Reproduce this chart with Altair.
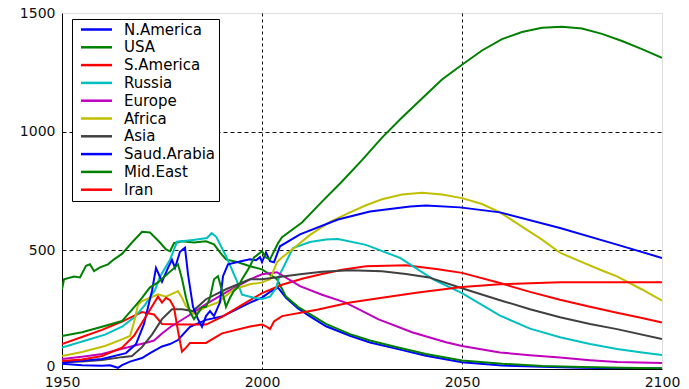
import altair as alt
import pandas as pd

# Production by region, 1950-2100 (history plus projection)
names = ["N.America", "USA", "S.America", "Russia", "Europe",
         "Africa", "Asia", "Saud.Arabia", "Mid.East", "Iran"]
colors = ["#0000ff", "#008000", "#ff0000", "#00bfbf", "#bf00bf",
          "#bfbf00", "#404040", "#0000ff", "#008000", "#ff0000"]

n_america_years = [1950, 1955, 1960, 1962, 1964, 1965, 1967, 1970, 1972, 1975, 1977, 1979,
                   1982, 1986, 1990, 1993.5, 1997, 2000, 2002, 2004, 2006, 2009, 2012, 2016,
                   2022, 2027, 2033, 2041, 2050, 2060, 2070, 2080, 2090, 2100]
n_america_vals = [22, 16, 14, 16, 5, 16, 31, 46, 67, 95, 105, 122,
                  178, 207, 221, 250, 280, 301, 325, 343, 300, 255, 222, 180,
                  140, 112, 88, 56, 28, 15, 9, 5, 3, 2]

usa_years = [1950, 1950.5, 1953, 1954.5, 1956, 1957, 1958, 1959.5, 1961.5, 1963, 1965, 1967.5,
             1970, 1972, 1974.5, 1976, 1977, 1978, 1980, 1983, 1986, 1988, 1989.5, 1991,
             1994, 1997, 2000, 2003.75, 2006, 2009, 2012, 2016, 2022, 2027, 2033, 2041,
             2050, 2060, 2070, 2080, 2090, 2100]
usa_vals = [335, 378, 390, 386, 435, 441, 412, 428, 441, 462, 485, 533,
            578, 575, 533, 504, 496, 530, 538, 533, 538, 525, 491, 462,
            450, 433, 420, 378, 305, 262, 231, 190, 147, 120, 95, 63,
            36, 22, 13, 8, 5, 3]

s_america_years = [1950, 1955, 1960, 1965, 1970, 1973, 1975, 1980, 1986, 1990, 1995, 2000,
                   2005, 2010, 2015, 2020, 2026, 2036, 2044, 2050, 2059.5, 2067, 2074.5,
                   2082, 2088.75, 2095, 2100]
s_america_vals = [105, 135, 165, 200, 240, 230, 190, 187, 187, 220, 270, 320,
                  355, 380, 400, 418, 433, 437, 420, 405, 362, 325, 292,
                  262, 237, 215, 196]

russia_years = [1950, 1956.5, 1960.75, 1965, 1968.25, 1970.75, 1973.25, 1974.5, 1977, 1978.75,
                1982.75, 1986.25, 1987.4, 1988.6, 1991.1, 1993.6, 1995, 1998, 2000, 2002,
                2003.5, 2004.5, 2007.75, 2012, 2016, 2019, 2026, 2034.5, 2043, 2050,
                2059.5, 2067, 2074.5, 2082, 2088.75, 2095, 2100]
russia_vals = [90, 123, 145, 178, 220, 270, 333, 389, 460, 536,
               544, 552, 573, 556, 472, 376, 313, 300, 295, 305,
               340, 400, 510, 535, 546, 548, 523, 468, 376, 320,
               225, 170, 134, 105, 84, 70, 59]

europe_years = [1950, 1955, 1960, 1966.5, 1971.5, 1973, 1975, 1977, 1979, 1983, 1986, 1991,
                1997, 2000, 2003.75, 2009.5, 2015, 2020.75, 2025, 2029, 2037.5, 2046, 2050,
                2059.5, 2067, 2074.5, 2082, 2088.75, 2100]
europe_vals = [42, 52, 63, 92, 113, 120, 150, 176, 197, 239, 273, 323,
               378, 399, 408, 349, 313, 281, 245, 210, 155, 113, 97,
               70, 58, 48, 37, 29, 25]

africa_years = [1950, 1955, 1960.75, 1965, 1967, 1968, 1969, 1970, 1972, 1974, 1976, 1979,
                1980, 1981, 1983, 1985.75, 1989, 1993, 1997, 2000, 2002, 2003.75, 2005, 2008,
                2012, 2017, 2022, 2026, 2030, 2035, 2040, 2045, 2050, 2055, 2059.5, 2065,
                2070, 2074.5, 2080, 2085, 2088.75, 2095, 2100]
africa_vals = [55, 72, 97, 125, 139, 197, 270, 286, 300, 315, 305, 328,
               300, 265, 231, 260, 281, 336, 357, 365, 378, 450, 470, 510,
               565, 620, 660, 690, 715, 735, 743, 735, 720, 695, 660, 600,
               545, 490, 450, 415, 390, 335, 288]

asia_years = [1950, 1955, 1960, 1965, 1967.5, 1970, 1972.5, 1975, 1977.5, 1980, 1982.75, 1986,
              1991, 1997, 2000, 2009.5, 2015, 2022, 2030, 2036, 2041.75, 2050, 2059.5,
              2067, 2074.5, 2082, 2088.75, 2100]
asia_vals = [29, 32, 38, 50, 55, 92, 145, 210, 252, 252, 244, 294,
             336, 378, 378, 399, 410, 416, 412, 400, 386, 340, 290,
             252, 218, 190, 168, 126]

saudi_years = [1950, 1955, 1960, 1966, 1968.5, 1970.5, 1971.5, 1972.5, 1973.5, 1975, 1976.5,
               1977.5, 1978.25, 1979.5, 1980.75, 1981.5, 1982.75, 1984, 1985, 1986, 1987,
               1988, 1989.5, 1990.25, 1991.5, 1995, 1997, 1998.5, 1999.5, 2000, 2001, 2002,
               2003, 2004.5, 2009.5, 2019, 2027, 2037, 2041, 2049.5, 2059.5, 2074.5,
               2088.75, 2100]
saudi_vals = [27, 35, 42, 67, 105, 190, 260, 330, 426, 368, 426,
              460, 426, 494, 511, 400, 262, 210, 178, 223, 244,
              223, 281, 391, 441, 455, 462, 458, 471, 450, 491, 454,
              450, 517, 567, 630, 664, 685, 689, 681, 660, 594,
              524, 468]

mid_east_years = [1950, 1955, 1960, 1965, 1968, 1970, 1972, 1974, 1976, 1978, 1979, 1980,
                  1981, 1982, 1983, 1984, 1985, 1986, 1987, 1988, 1989, 1990, 1991, 1992,
                  1993, 1994, 1995, 1996, 1997, 1998, 1999, 2000, 2001, 2002, 2003, 2004,
                  2005, 2010, 2015, 2020, 2025, 2030, 2035, 2040, 2045, 2050, 2055, 2060,
                  2065, 2070, 2075, 2080, 2085, 2090, 2095, 2100]
mid_east_vals = [139, 155, 178, 202, 260, 300, 344, 365, 395, 425, 441, 380,
                 300, 240, 210, 235, 260, 262, 300, 378, 391, 330, 262, 300,
                 330, 345, 378, 405, 433, 470, 483, 496, 470, 462, 496, 530,
                 555, 617, 705, 790, 880, 975, 1060, 1140, 1220, 1282, 1342, 1390,
                 1420, 1438, 1442, 1435, 1412, 1382, 1348, 1311]

iran_years = [1950, 1955, 1960, 1965, 1968, 1970, 1972, 1974, 1975, 1976, 1977, 1978,
              1979, 1980, 1981, 1982, 1986, 1990, 1997, 2000, 2001, 2002, 2003, 2005,
              2013.75, 2022, 2030, 2039, 2050, 2059.5, 2074.5, 2100]
iran_vals = [34, 40, 55, 90, 140, 195, 250, 305, 280, 300, 290, 260,
             160, 73, 90, 110, 110, 150, 179, 187, 180, 168, 200, 223,
             250, 280, 300, 322, 345, 357, 366, 366]

series = [
    (n_america_years, n_america_vals),
    (usa_years, usa_vals),
    (s_america_years, s_america_vals),
    (russia_years, russia_vals),
    (europe_years, europe_vals),
    (africa_years, africa_vals),
    (asia_years, asia_vals),
    (saudi_years, saudi_vals),
    (mid_east_years, mid_east_vals),
    (iran_years, iran_vals),
]

rows = []
for rank, (name, (years, vals)) in enumerate(zip(names, series)):
    for i, (yr, v) in enumerate(zip(years, vals)):
        rows.append({"region": name, "year": yr, "value": v, "idx": i, "rank": rank})
df = pd.DataFrame(rows)

font = "DejaVu Sans"
grid_x = {"condition": {"test": "datum.value == 2000 || datum.value == 2050", "value": 1}, "value": 0}
grid_y = {"condition": {"test": "datum.value == 500 || datum.value == 1000", "value": 1}, "value": 0}
# lift the "0" label a little so it clears the year labels below
y_label_shift = {"condition": {"test": "datum.value == 0", "value": -3}, "value": 0}
pad = "\u00a0\u00a0\u00a0"

chart = alt.Chart(df).mark_line(strokeWidth=2, clip=True).encode(
    x=alt.X("year:Q",
            scale=alt.Scale(domain=[1950, 2100], nice=False, zero=False),
            axis=alt.Axis(values=[1950, 2000, 2050, 2100], title=None, format="d",
                          grid=True, gridColor="#111111", gridDash=[3, 3],
                          gridOpacity=grid_x, ticks=False, labelFlush=False,
                          labelPadding=6, labelFont=font, labelFontSize=14,
                          labelColor="#111111", domainColor="#000000",
                          labelOverlap=False)),
    y=alt.Y("value:Q",
            scale=alt.Scale(domain=[0, 1500], nice=False),
            axis=alt.Axis(values=[0, 500, 1000, 1500], title=None, format="d",
                          grid=True, gridColor="#111111", gridDash=[4, 3],
                          gridOpacity=grid_y, ticks=False, labelPadding=7,
                          labelOffset=y_label_shift,
                          labelFont=font, labelFontSize=14, labelColor="#111111",
                          domainColor="#000000", labelOverlap=False)),
    color=alt.Color("region:N",
                    scale=alt.Scale(domain=names, range=colors),
                    legend=alt.Legend(
                        title=None, orient="none", legendX=10, legendY=6,
                        symbolType="M-3.1,0H3.1", symbolSize=100,
                        symbolStrokeWidth=2.5, symbolOffset=14,
                        labelOffset=20, padding=3, rowPadding=1.8,
                        labelFont=font, labelFontSize=15, labelColor="#000000",
                        labelExpr=f"datum.label + '{pad}'",
                        strokeColor="#000000", fillColor="#ffffff")),
    detail="rank:N",
    order="idx:Q",
).properties(
    width=600, height=356,
    autosize=alt.AutoSizeParams(type="none"),
    padding={"left": 62, "top": 13, "right": 27, "bottom": 20},
).configure_view(
    stroke="#333333", strokeWidth=1
).configure(background="#ffffff")

chart.save("out.html", embed_options={"renderer": "svg", "actions": False})
